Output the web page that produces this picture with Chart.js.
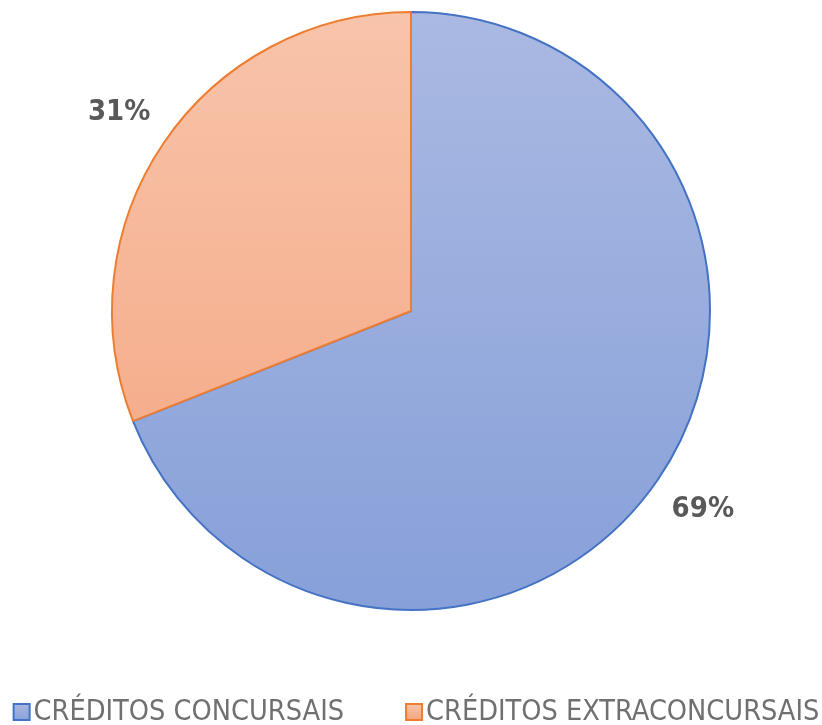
<!DOCTYPE html>
<html>
<head>
<meta charset="utf-8">
<script src="https://cdn.jsdelivr.net/npm/chart.js@4/dist/chart.umd.min.js"></script>
<style>
html,body{margin:0;padding:0;background:#fff;}
#wrap{width:822px;height:725px;position:relative;}
</style>
</head>
<body>
<div id="wrap"><canvas id="c" width="822" height="725"></canvas></div>
<script>
const categories = ["CRÉDITOS CONCURSAIS", "CRÉDITOS EXTRACONCURSAIS"];
const values = [69, 31];
const valueLabels = ["69%", "31%"];
const borderColors = ["#4472C4", "#ED7D31"];
const gradTop = ["#AAB9E2", "#F8C4AB"];
const gradBottom = ["#87A0D9", "#F4A47F"];

const FONT = "'Liberation Sans Narrow', 'DejaVu Sans Condensed', 'Liberation Sans', sans-serif";

const labelPlugin = {
  id: 'sliceLabels',
  afterDatasetsDraw(chart) {
    const ctx = chart.ctx;
    const meta = chart.getDatasetMeta(0);
    ctx.save();
    ctx.font = "bold 29px " + FONT;
    ctx.fillStyle = "#595959";
    ctx.textAlign = "center";
    ctx.textBaseline = "middle";
    meta.data.forEach((arc, i) => {
      const p = arc.getProps(['x','y','startAngle','endAngle','outerRadius'], true);
      const mid = (p.startAngle + p.endAngle) / 2;
      const r = p.outerRadius * 1.18;
      ctx.fillText(valueLabels[i], p.x + Math.cos(mid) * r, p.y + Math.sin(mid) * r);
    });
    ctx.restore();
  }
};

// bottom legend drawn on the canvas from the chart's labels
const legendPlugin = {
  id: 'bottomLegend',
  afterDraw(chart) {
    const ctx = chart.ctx;
    const labels = chart.data.labels;
    const box = 18, boxGap = 3, itemGap = 61;
    ctx.save();
    ctx.font = "28.6px " + FONT;
    ctx.textBaseline = "middle";
    const widths = labels.map(t => ctx.measureText(t).width);
    let total = 0;
    widths.forEach((w, i) => { total += box + boxGap + w + (i < widths.length - 1 ? itemGap : 0); });
    let x = chart.width / 2 + 5 - total / 2;
    const yMid = 712;
    labels.forEach((t, i) => {
      const g = ctx.createLinearGradient(0, yMid - box/2, 0, yMid + box/2);
      g.addColorStop(0, gradTop[i]);
      g.addColorStop(1, gradBottom[i]);
      ctx.fillStyle = g;
      ctx.fillRect(x + 1, yMid - box/2 + 1, box - 2, box - 2);
      ctx.strokeStyle = borderColors[i];
      ctx.lineWidth = 2;
      ctx.strokeRect(x + 1, yMid - box/2 + 1, box - 2, box - 2);
      ctx.fillStyle = "#707070";
      ctx.fillText(t, x + box + boxGap, yMid + 1);
      x += box + boxGap + widths[i] + itemGap;
    });
    ctx.restore();
  }
};

function fillFor(i) {
  return function(context) {
    const chart = context.chart;
    const area = chart.chartArea;
    if (!area) return gradTop[i];
    const g = chart.ctx.createLinearGradient(0, area.top, 0, area.bottom);
    g.addColorStop(0, gradTop[i]);
    g.addColorStop(1, gradBottom[i]);
    return g;
  };
}

new Chart(document.getElementById('c'), {
  type: 'pie',
  data: {
    labels: categories,
    datasets: [{
      data: values,
      backgroundColor: (ctx) => fillFor(ctx.dataIndex)(ctx),
      borderColor: borderColors,
      borderWidth: 2,
      hoverOffset: 0
    }]
  },
  options: {
    responsive: false,
    animation: false,
    events: [],
    layout: { padding: { top: 11, bottom: 114, left: 0, right: 0 } },
    plugins: {
      tooltip: { enabled: false },
      legend: { display: false }
    }
  },
  plugins: [labelPlugin, legendPlugin]
});
</script>
</body>
</html>
